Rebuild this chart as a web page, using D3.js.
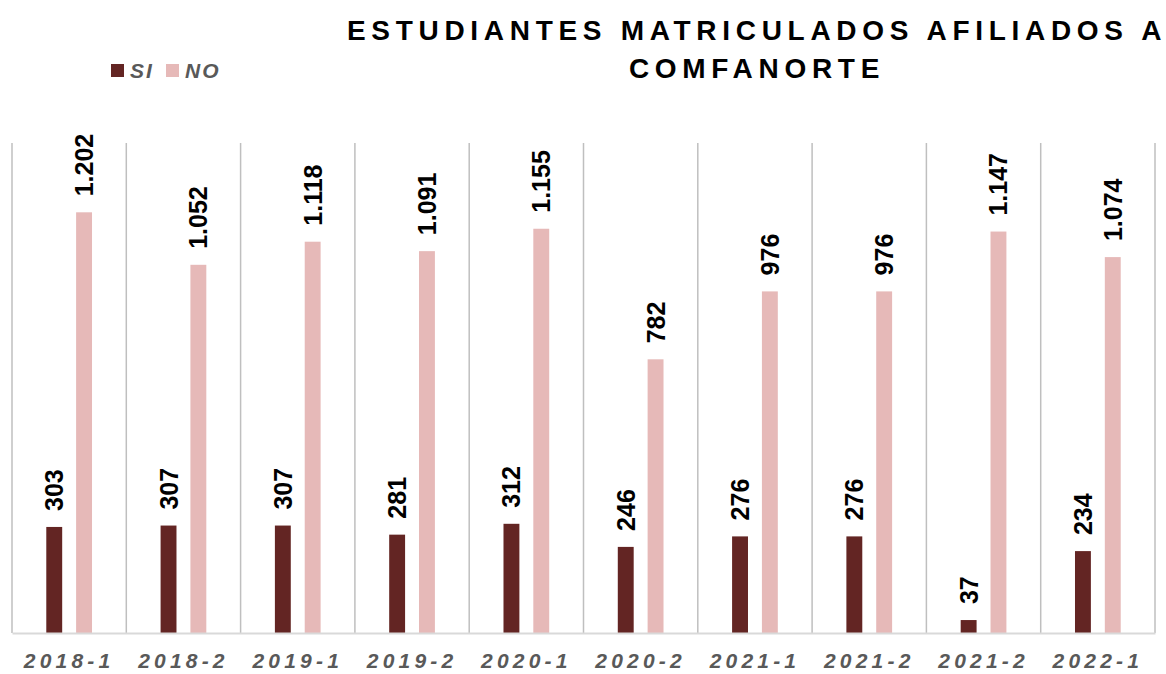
<!DOCTYPE html>
<html>
<head>
<meta charset="utf-8">
<script src="https://cdn.jsdelivr.net/npm/d3@7"></script>
<style>
  html, body { margin: 0; padding: 0; background: #ffffff; }
  svg { display: block; font-family: "Liberation Sans", Arial, sans-serif; }
</style>
</head>
<body>
<svg id="chart" width="1166" height="674"></svg>
<script>
const categories = ["2018-1", "2018-2", "2019-1", "2019-2", "2020-1", "2020-2", "2021-1", "2021-2", "2021-2", "2022-1"];
const seriesNames = ["SI", "NO"];
const siValues = [303, 307, 307, 281, 312, 246, 276, 276, 37, 234];
const noValues = [1202, 1052, 1118, 1091, 1155, 782, 976, 976, 1147, 1074];
const seriesColors = ["#632523", "#E6B9B8"];
const titleLines = ["ESTUDIANTES MATRICULADOS AFILIADOS A", "COMFANORTE"];

const svg = d3.select("#chart");
const margin = { left: 12, right: 11, top: 143, bottom: 41 };
const W = 1166, H = 674;

const idx = d3.range(categories.length);
const x = d3.scaleBand().domain(idx).range([margin.left, W - margin.right]).paddingInner(0).paddingOuter(0);
const bw = x.bandwidth();
const xSub = d3.scaleBand().domain(seriesNames).range([bw * 0.3, bw * 0.7]).paddingInner(0.467).paddingOuter(0);
const y = d3.scaleLinear().domain([0, 1400]).range([H - margin.bottom, margin.top]);
const color = d3.scaleOrdinal().domain(seriesNames).range(seriesColors);

const fmt = v => d3.format(",")(v).replace(/,/g, ".");

// vertical separators
const bounds = idx.map(i => x(i)).concat([x(idx[idx.length - 1]) + bw]);
svg.append("g").selectAll("line").data(bounds).join("line")
  .attr("x1", d => d).attr("x2", d => d)
  .attr("y1", y(1400)).attr("y2", y(0))
  .attr("stroke", "#BFBFBF").attr("stroke-width", 1.5);

// bars
const rows = idx.map(i => ({ i, vals: [{ s: "SI", v: siValues[i] }, { s: "NO", v: noValues[i] }] }));
const groups = svg.append("g").selectAll("g").data(rows).join("g")
  .attr("transform", d => `translate(${x(d.i)},0)`);
groups.selectAll("rect").data(d => d.vals).join("rect")
  .attr("x", d => xSub(d.s))
  .attr("width", xSub.bandwidth())
  .attr("y", d => y(d.v))
  .attr("height", d => y(0) - y(d.v))
  .attr("fill", d => color(d.s));
groups.selectAll("text").data(d => d.vals).join("text")
  .attr("transform", d => `translate(${xSub(d.s) + xSub.bandwidth() / 2},${y(d.v) - 16}) rotate(-90)`)
  .attr("dy", "0.36em")
  .attr("text-anchor", "start")
  .style("font-size", "25px").style("font-weight", "bold")
  .attr("fill", "#000")
  .text(d => fmt(d.v));

// bottom axis
const axis = d3.axisBottom(x).tickSize(0).tickPadding(20).tickFormat(i => categories[i]);
const gx = svg.append("g").attr("transform", `translate(0,${y(0)})`).call(axis);
gx.select(".domain").attr("stroke", "#D9D9D9").attr("stroke-width", 2);
gx.selectAll("text")
  .style("font-family", "'Liberation Sans', Arial, sans-serif")
  .style("font-size", "21px").style("font-weight", "bold").style("font-style", "italic")
  .style("letter-spacing", "4.2px")
  .attr("fill", "#595959");

// title
svg.append("text")
  .attr("x", 757).attr("y", 40)
  .attr("text-anchor", "middle")
  .style("font-size", "28px").style("font-weight", "bold").style("letter-spacing", "5.7px")
  .attr("fill", "#000")
  .selectAll("tspan").data(titleLines).join("tspan")
  .attr("x", 757).attr("dy", (d, i) => i === 0 ? 0 : 38)
  .text(d => d);

// legend
const legendX = [111, 166];
const lg = svg.append("g").selectAll("g").data(seriesNames).join("g")
  .attr("transform", (d, i) => `translate(${legendX[i]},64)`);
lg.append("rect").attr("width", 13).attr("height", 13).attr("fill", d => color(d));
lg.append("text").attr("x", 19).attr("y", 14)
  .style("font-size", "21px").style("font-weight", "bold").style("font-style", "italic")
  .style("letter-spacing", "2px")
  .attr("fill", "#595959")
  .text(d => d);
</script>
</body>
</html>
